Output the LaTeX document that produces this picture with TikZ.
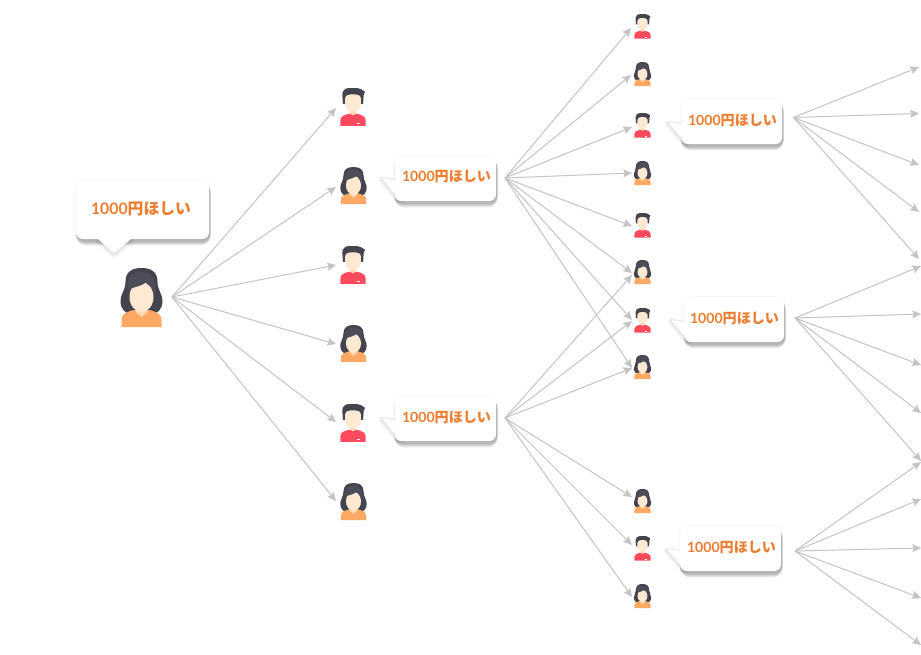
\documentclass[tikz,border=0pt]{standalone}
\usepackage{fontspec}
\newfontfamily\cjkfont{Noto Sans CJK JP}
\newfontfamily\digitfont{Lato}
\usetikzlibrary{arrows.meta}
\definecolor{hairback}{HTML}{44444F}
\definecolor{hairfront}{HTML}{4D4D5A}
\definecolor{skin}{HTML}{FFE9D2}
\definecolor{neckskin}{HTML}{FFD9B3}
\definecolor{orangebody}{HTML}{FFA863}
\definecolor{redbody}{HTML}{FF4A5E}
\definecolor{linegray}{HTML}{C4C4C4}
\definecolor{txtorange}{HTML}{ED7D31}
\newcommand{\saying}{{\digitfont\bfseries 1000}{\cjkfont\bfseries 円ほしい}}
\tikzset{
  x=0.75pt,y=-0.75pt,
  link/.style={draw=linegray,line width=0.75pt,-{Stealth[length=6.5pt,width=6pt,inset=1pt]}},
  saytext/.style={font=\fontsize{10.55pt}{12pt}\selectfont,text=txtorange,inner sep=0pt},
  bigtext/.style={font=\fontsize{11.85pt}{14pt}\selectfont,text=txtorange,inner sep=0pt},
  small/.style={scale=0.41},
  mid/.style={scale=0.63},
  womanpic/.pic={
    \fill[hairback] (0,0) .. controls (10,0) and (16,4) .. (16,14) .. controls (16,22) and (21,26) .. (21,33) .. controls (21,41) and (16,46) .. (10,46) -- (-10,46) .. controls (-16,46) and (-21,41) .. (-21,33) .. controls (-21,26) and (-16,22) .. (-16,14) .. controls (-16,4) and (-10,0) .. (0,0) -- cycle;
    \fill[orangebody] (-20,59) -- (-20,52) .. controls (-20,46) and (-15,44) .. (-8,42) -- (8,42) .. controls (15,44) and (20,46) .. (20,52) -- (20,59) -- cycle;
    \fill[neckskin] (-6,38) -- (-6,44) -- (0,49) -- (6,44) -- (6,38) -- cycle;
    \fill[skin] (0,29) ellipse [x radius=12,y radius=15];
    \fill[hairfront] (-14,26) .. controls (-15,10) and (-10,4) .. (0,4) .. controls (10,4) and (15,10) .. (14,28) -- (12,26) .. controls (11,20) and (8,16) .. (5,14) .. controls (2,17) and (-6,19) .. (-12,21) -- cycle;
  },
  manpic/.pic={
    \fill[hairback] (-16,25) -- (-17,10) .. controls (-17,4) and (-12,0) .. (-6,0) -- (6,0) .. controls (11,0) and (15,3) .. (19,6) -- (17,11) -- (16,25) -- cycle;
    \fill[redbody] (-20,60) -- (-20,51) .. controls (-20,45) and (-14,43) .. (-7,41) -- (7,41) .. controls (14,43) and (20,45) .. (20,51) -- (20,60) -- cycle;
    \fill[neckskin] (-5,34) -- (-5,41) .. controls (-3,44) and (3,44) .. (5,41) -- (5,34) -- cycle;
    \fill[skin] (-12.5,17) .. controls (-12.5,12) and (-8,10) .. (0,10) .. controls (8,10) and (12.5,12) .. (12.5,17) -- (12.5,26) .. controls (12.5,34) and (6,38) .. (0,38) .. controls (-6,38) and (-12.5,34) .. (-12.5,26) -- cycle;
    \fill[white] (6,55.5) rectangle (11,57.5);
  },
}
% rounded card with a tail: left top right bottom, tail polygon
\newcommand{\bubbleshape}[5]{%
  \draw[black,opacity=0.03,line width=1.5pt,rounded corners=5pt] (#1,#2) rectangle (#3,#4);
  \foreach \ins/\s/\wd/\op in {1.5/3.2/6.5/0.07,1/2.7/5.5/0.08,0.5/2.2/4.5/0.09,0/1.5/3/0.08}{
    \draw[black,opacity=\op,line width=\wd*0.75pt,line join=round,rounded corners=5pt,shift={(0.3,\s)}] (#1+\ins+1.5,#2+3) rectangle (#3-\ins-0.5,#4);
    \draw[black,opacity=\op*0.3,line width=\wd*0.75pt,line join=round,shift={(0,\s-1)}] #5;
  }
  \fill[white,rounded corners=5pt] (#1,#2) rectangle (#3,#4);
  \fill[white] #5;
}
\newcommand{\sidebubble}[6]{% left top right bottom tipx tipy
  \bubbleshape{#1}{#2}{#3}{#4}{(#1+1,#6+2) -- (#5,#6) -- (#1+4,#4-2) -- (#1+8,#4-4) -- cycle}
}
\begin{document}
\begin{tikzpicture}
\useasboundingbox (0,0) rectangle (921,654);
\fill[white] (0,0) rectangle (921,654);

% sources
\coordinate (sa) at (172,297);
\coordinate (sb) at (505,178);
\coordinate (sc) at (505,418);
\coordinate (sd) at (793.5,117.5);
\coordinate (se) at (795,318);
\coordinate (sf) at (795,551);

% arrows
\foreach \n/\y in {1/108,2/187,3/265,4/344,5/422,6/501}{
  \coordinate (a\n) at (336,\y);
  \draw[link] (sa) -- (a\n);
}
\foreach \n/\xx/\y in {1/631/28,2/631/75,3/632/127,4/632/173,5/632/226,6/632/273,7/632/320,8/632/368}{
  \coordinate (b\n) at (\xx,\y);
  \draw[link] (sb) -- (b\n);
}
\foreach \n/\xx/\y in {1/632/275,2/632/321,3/632/368,4/632/497,5/632/545,6/632/597}{
  \coordinate (c\n) at (\xx,\y);
  \draw[link] (sc) -- (c\n);
}
\foreach \n/\y in {1/67,2/113.5,3/165,4/212,5/259}{
  \coordinate (d\n) at (919,\y);
  \draw[link] (sd) -- (d\n);
}
\foreach \n/\y in {1/266,2/314,3/365,4/413,5/461}{
  \coordinate (e\n) at (921,\y);
  \draw[link] (se) -- (e\n);
}
\foreach \n/\y in {1/462,2/499,3/548,4/598,5/645}{
  \coordinate (f\n) at (921,\y);
  \draw[link] (sf) -- (f\n);
}

% people
\pic at (141.5,268) {womanpic};
\foreach \y in {88,246,404}{\pic[mid] at (353,\y) {manpic};}
\foreach \y in {167,325,483}{\pic[mid] at (353.5,\y) {womanpic};}
\foreach \y in {14,113,213,308,536}{\pic[small] at (642.5,\y) {manpic};}
\foreach \y in {62,161,260,355,489,584}{\pic[small] at (642.5,\y) {womanpic};}

% speech bubbles
\bubbleshape{76}{180}{209}{239}{(98,239) -- (114,253) -- (131,239) -- cycle}
\node[bigtext] (say0) at (141,209) {\saying};

\sidebubble{394.5}{156}{496}{201}{382}{178}
\node[saytext] (say1) at (446.5,177) {\saying};
\sidebubble{394.5}{396}{496}{441}{382}{418}
\node[saytext] (say2) at (446.5,418) {\saying};
\sidebubble{681}{99}{782}{144}{668}{122}
\node[saytext] (say3) at (732.5,121) {\saying};
\sidebubble{684}{297}{784}{342}{671}{320}
\node[saytext] (say4) at (734.5,319) {\saying};
\sidebubble{680}{526}{781}{571}{667}{549}
\node[saytext] (say5) at (731.5,548) {\saying};
\end{tikzpicture}
\end{document}
